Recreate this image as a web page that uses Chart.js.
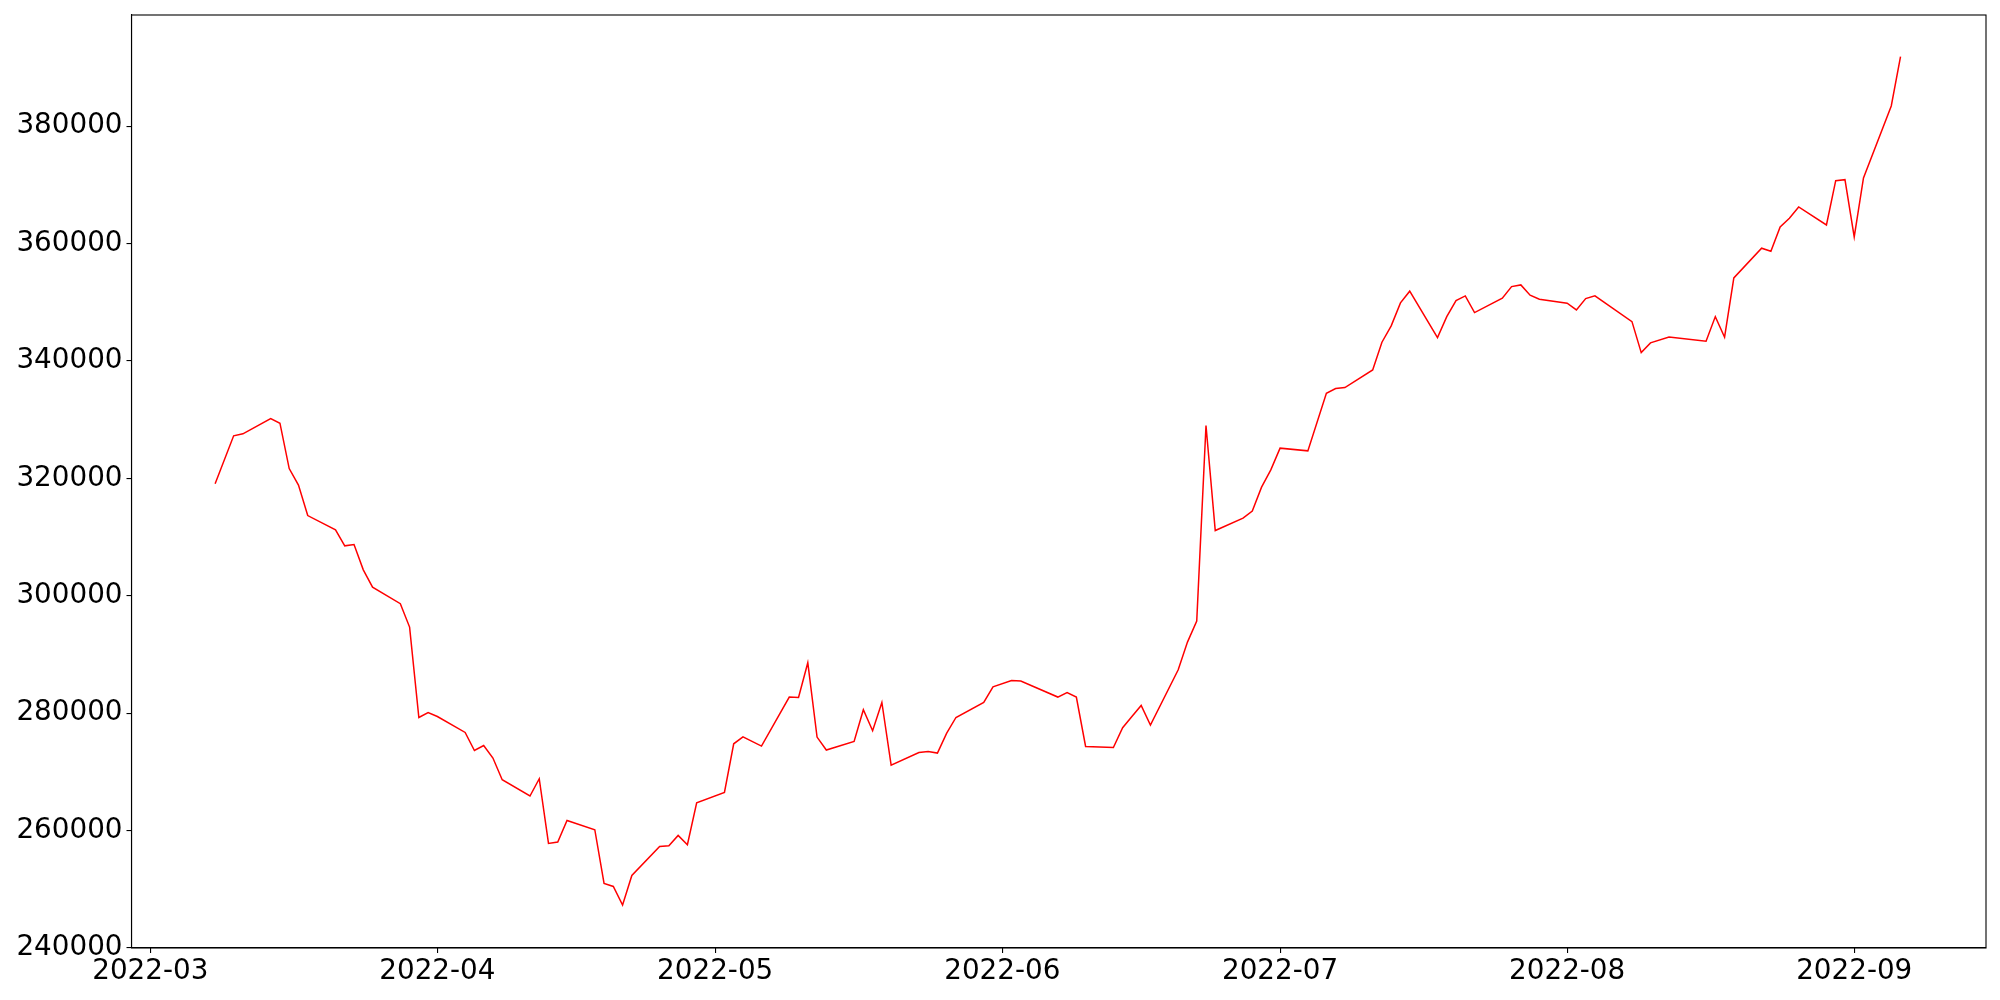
<!DOCTYPE html>
<html>
<head>
<meta charset="utf-8">
<script src="https://cdn.jsdelivr.net/npm/chart.js@4/dist/chart.umd.min.js"></script>
<style>
  html, body { margin: 0; padding: 0; background: #ffffff; }
  #wrap { width: 2000px; height: 1000px; position: relative; }
</style>
</head>
<body>
<div id="wrap"><canvas id="c" width="2000" height="1000"></canvas></div>
<script>
const dates = [
  "2022-03-08","2022-03-10","2022-03-11","2022-03-14","2022-03-15","2022-03-16","2022-03-17","2022-03-18",
  "2022-03-21","2022-03-22","2022-03-23","2022-03-24","2022-03-25","2022-03-28","2022-03-29","2022-03-30",
  "2022-03-31","2022-04-01","2022-04-04","2022-04-05","2022-04-06","2022-04-07","2022-04-08","2022-04-11",
  "2022-04-12","2022-04-13","2022-04-14","2022-04-15","2022-04-18","2022-04-19","2022-04-20","2022-04-21",
  "2022-04-22","2022-04-25","2022-04-26","2022-04-27","2022-04-28","2022-04-29","2022-05-02","2022-05-03",
  "2022-05-04","2022-05-06","2022-05-09","2022-05-10","2022-05-11","2022-05-12","2022-05-13","2022-05-16",
  "2022-05-17","2022-05-18","2022-05-19","2022-05-20","2022-05-23","2022-05-24","2022-05-25","2022-05-26",
  "2022-05-27","2022-05-30","2022-05-31","2022-06-02","2022-06-03","2022-06-07","2022-06-08","2022-06-09",
  "2022-06-10","2022-06-13","2022-06-14","2022-06-15","2022-06-16","2022-06-17","2022-06-20","2022-06-21",
  "2022-06-22","2022-06-23","2022-06-24","2022-06-27","2022-06-28","2022-06-29","2022-06-30","2022-07-01",
  "2022-07-04","2022-07-06","2022-07-07","2022-07-08","2022-07-11","2022-07-12","2022-07-13","2022-07-14",
  "2022-07-15","2022-07-18","2022-07-19","2022-07-20","2022-07-21","2022-07-22","2022-07-25","2022-07-26",
  "2022-07-27","2022-07-28","2022-07-29","2022-08-01","2022-08-02","2022-08-03","2022-08-04","2022-08-08",
  "2022-08-09","2022-08-10","2022-08-12","2022-08-16","2022-08-17","2022-08-18","2022-08-19","2022-08-22",
  "2022-08-23","2022-08-24","2022-08-25","2022-08-26","2022-08-29","2022-08-30","2022-08-31","2022-09-01",
  "2022-09-02","2022-09-05","2022-09-06"
];
const values = [
  319070,327250,327590,330190,329400,321680,318850,313670,
  311240,308510,308730,304420,301480,298660,294670,279270,
  280120,279440,276720,273650,274500,272360,268660,265890,
  268830,257810,258050,261730,260150,251000,250490,247320,
  252360,257300,257420,259180,257590,264740,266500,274790,
  275980,274400,282750,282680,288590,275930,273720,275180,
  280580,277010,281830,271160,273310,273480,273210,276610,
  279270,281830,284500,285570,285470,282750,283530,282750,
  274330,274160,277520,279440,281320,277980,287390,292110,
  295690,329000,311120,313230,314420,318510,321450,325150,
  324690,334500,335300,335470,338480,343200,345980,349900,
  351890,343990,347560,350290,351090,348240,350700,352670,
  352960,351210,350520,349840,348700,350630,351090,346710,
  341430,343080,344100,343370,347560,344050,354150,359210,
  358700,362840,364320,366240,363180,370720,370890,361130,
  371180,383440,391840
];
const xTickDates = ["2022-03-01","2022-04-01","2022-05-01","2022-06-01","2022-07-01","2022-08-01","2022-09-01"];
const xTickLabels = ["2022-03","2022-04","2022-05","2022-06","2022-07","2022-08","2022-09"];
const yTicks = [240000,260000,280000,300000,320000,340000,360000,380000];

const ORIGIN = Date.UTC(2022, 2, 1);
function dayIndex(s) {
  const p = s.split("-").map(Number);
  return (Date.UTC(p[0], p[1] - 1, p[2]) - ORIGIN) / 86400000;
}
const points = dates.map((d, i) => ({ x: dayIndex(d), y: values[i] }));
const xTickVals = xTickDates.map(dayIndex);

const FONT = { family: "'DejaVu Sans', sans-serif", size: 27.8 };

const framePlugin = {
  id: 'frame',
  afterDraw(chart) {
    const a = chart.chartArea, ctx = chart.ctx;
    ctx.save();
    ctx.strokeStyle = '#000';
    ctx.lineWidth = 1.1;
    ctx.strokeRect(a.left, a.top, a.right - a.left, a.bottom - a.top);
    ctx.restore();
  }
};

new Chart(document.getElementById('c'), {
  type: 'line',
  data: {
    datasets: [{
      data: points,
      borderColor: '#ff0000',
      borderWidth: 1.5,
      pointRadius: 0,
      fill: false,
      tension: 0
    }]
  },
  options: {
    responsive: false,
    animation: false,
    devicePixelRatio: 1,
    layout: { padding: { left: 0, right: 14, top: 15, bottom: 0 } },
    plugins: { legend: { display: false }, tooltip: { enabled: false } },
    scales: {
      x: {
        type: 'linear',
        min: -2.03,
        max: 198.23,
        afterFit(s) { s.height = 52; s.paddingLeft = 0; s.paddingRight = 0; },
        afterBuildTicks(s) { s.ticks = xTickVals.map(v => ({ value: v })); },
        grid: { drawOnChartArea: false, drawTicks: true, tickLength: 5, color: '#000', lineWidth: 1.1 },
        border: { display: true, color: '#000', width: 1.1 },
        ticks: {
          autoSkip: false, maxRotation: 0, color: '#000', font: FONT, padding: 2,
          callback(v) { const i = xTickVals.indexOf(v); return i >= 0 ? xTickLabels[i] : ''; }
        }
      },
      y: {
        type: 'linear',
        min: 240000,
        max: 398940,
        afterFit(s) { s.width = 131.5; s.paddingTop = 0; s.paddingBottom = 0; },
        afterBuildTicks(s) { s.ticks = yTicks.map(v => ({ value: v })); },
        grid: { drawOnChartArea: false, drawTicks: true, tickLength: 5, color: '#000', lineWidth: 1.1 },
        border: { display: true, color: '#000', width: 1.1 },
        ticks: {
          autoSkip: false, color: '#000', font: FONT, padding: 4,
          callback(v) { return String(v); }
        }
      }
    }
  },
  plugins: [framePlugin]
});
</script>
</body>
</html>
